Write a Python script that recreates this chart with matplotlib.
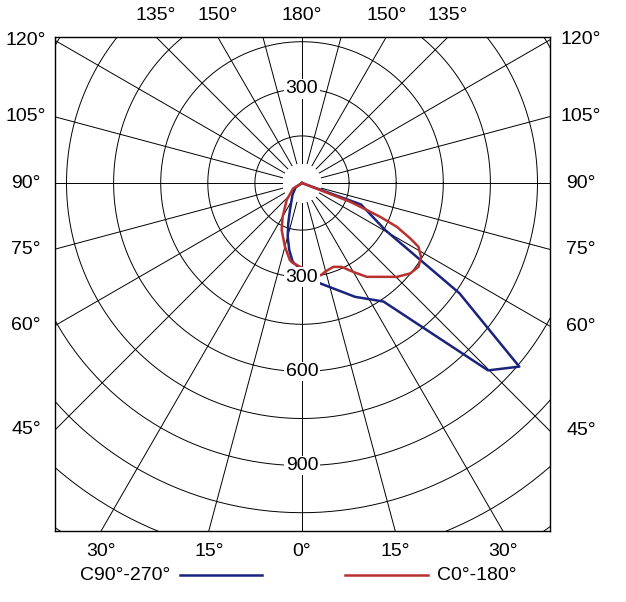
import numpy as np
import matplotlib.pyplot as plt
from matplotlib.lines import Line2D

plt.rcParams['font.family'] = ['Liberation Sans', 'DejaVu Sans']

# intensity (cd), gamma angle from nadir in degrees
blue_right_ang = [0, 10, 25, 34.5, 44.8, 49.8, 55, 60.5, 70, 75, 180]
blue_right_cd = [280, 324, 400, 458, 841, 906, 612, 305, 200, 0, 0]
blue_left_ang = [0, 6.8, 10.8, 15, 18.9, 24.2, 39, 55, 90, 180]
blue_left_cd = [280, 252, 217, 176, 135, 93, 48, 25, 0, 0]

red_right_ang = [0, 11.5, 14.5, 20.5, 25.4, 30, 34.6, 45.3, 50.1, 54.3, 58.2,
                 61.3, 62.9, 65.2, 66.6, 67.6, 68.7, 75, 180]
red_right_cd = [270, 300, 292, 285, 296, 327, 363, 425, 449, 457, 446,
                423, 387, 333, 271, 212, 164, 0, 0]
red_left_ang = [0, 6.7, 8.9, 15, 23.4, 29.8, 42, 58.6, 90, 180]
red_left_cd = [270, 256, 249, 210, 163, 124, 73, 33, 0, 0]

ring_step = 150
ring_labels = [300, 600, 900]
side_angles = [120, 105, 90, 75, 60, 45]
top_angles = [135, 150, 180, 150, 135]
top_signs = [-1, -1, 0, 1, 1]
bottom_angles = [30, 15, 0, 15, 30]
bottom_signs = [-1, -1, 0, 1, 1]

x0, x1 = -786.6, 789.8
y0, y1 = -1108.3, 465.0

fig = plt.figure(figsize=(6.26, 6.02), dpi=100)
ax = fig.add_axes([55/626, 71/602, 495/626, 494/602])
ax.set_xlim(x0, x1)
ax.set_ylim(y0, y1)
ax.set_aspect('equal')
ax.set_xticks([])
ax.set_yticks([])
for s in ax.spines.values():
    s.set_linewidth(1.0)

# rings
t = np.linspace(0, 2*np.pi, 400)
for r in range(ring_step, 1500, ring_step):
    ax.plot(r*np.cos(t), r*np.sin(t), color='black', lw=0.7, zorder=1)

# spokes every 15 degrees
for a in range(0, 360, 15):
    g = np.radians(a)
    ax.plot([64*np.sin(g), 1600*np.sin(g)], [-64*np.cos(g), -1600*np.cos(g)],
            color='black', lw=0.7, zorder=1)


def curve(right_ang, right_cd, left_ang, left_cd):
    ang = np.concatenate([-np.array(left_ang[::-1]), np.array(right_ang)])
    cd = np.concatenate([np.array(left_cd[::-1]), np.array(right_cd)])
    g = np.radians(ang)
    return cd*np.sin(g), -cd*np.cos(g)


bx, by = curve(blue_right_ang, blue_right_cd, blue_left_ang, blue_left_cd)
rx, ry = curve(red_right_ang, red_right_cd, red_left_ang, red_left_cd)
blue = '#1a237e'
red = '#b8312f'
ax.plot(bx, by, color=blue, lw=1.8, zorder=3)
ax.plot(rx, ry, color=red, lw=1.8, zorder=4)

# ring labels on the vertical axis
for v in ring_labels:
    ax.text(0, -v, str(v), ha='center', va='center', fontsize=14, zorder=6,
            bbox=dict(facecolor='white', edgecolor='none', pad=1.0))
ax.text(0, 300, '300', ha='center', va='center', fontsize=14, zorder=6,
        bbox=dict(facecolor='white', edgecolor='none', pad=1.0))

# angle labels round the frame
for a in side_angles:
    g = np.radians(a)
    ax.text((26-55)/495, -x0*(-np.cos(g)/np.sin(g)), f'{a}°', ha='center',
            va='center', fontsize=14, transform=ax.get_yaxis_transform())
    ax.text((581-55)/495, x1*(-np.cos(g)/np.sin(g)), f'{a}°', ha='center',
            va='center', fontsize=14, transform=ax.get_yaxis_transform())
for a, sg in zip(top_angles, top_signs):
    g = np.radians(a)
    ax.text(sg*abs(y1*np.tan(g)), (531-16)/494, f'{a}°', ha='center',
            va='center', fontsize=14, transform=ax.get_xaxis_transform())
for a, sg in zip(bottom_angles, bottom_signs):
    g = np.radians(a)
    ax.text(sg*abs(y0*np.tan(g)), (531-552)/494, f'{a}°', ha='center',
            va='center', fontsize=14, transform=ax.get_xaxis_transform())

# legend under the chart
ly = (602-575)/602
fig.text(170/626, ly, 'C90°-270°', ha='right', va='center', fontsize=14)
fig.add_artist(Line2D([180/626, 262/626], [ly, ly], color=blue, lw=1.8))
fig.add_artist(Line2D([345/626, 428/626], [ly, ly], color=red, lw=1.8))
fig.text(437/626, ly, 'C0°-180°', ha='left', va='center', fontsize=14)

fig.savefig('out.png', dpi=100)
